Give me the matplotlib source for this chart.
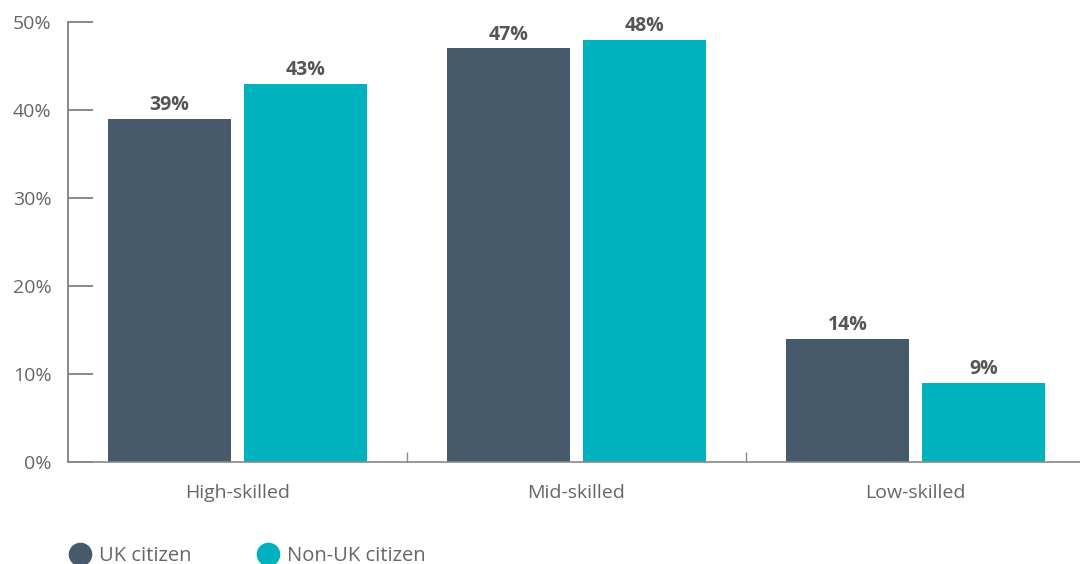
import matplotlib
matplotlib.use('Agg')

import numpy as np
import matplotlib.pyplot as plt
from matplotlib.lines import Line2D

categories = ['High-skilled', 'Mid-skilled', 'Low-skilled']
series_names = ['UK citizen', 'Non-UK citizen']
uk_values = [39, 47, 14]
non_uk_values = [43, 48, 9]
y_ticks = [0, 10, 20, 30, 40, 50]

colors = ['#475a6b', '#00b2bd']

plt.rcParams['font.family'] = ['Open Sans', 'DejaVu Sans']

fig = plt.figure( figsize=( 10.8, 5.64 ), dpi=100 )
ax = fig.add_axes( [ 68 / 1080, 1 - 462 / 564, 1 - 68 / 1080, 440 / 564 ] )

x = np.arange( len( categories ) )
width = 0.363
offset = 0.2

for vals, sign, col in zip( [ uk_values, non_uk_values ], [ -1, 1 ], colors ):
	bars = ax.bar( x + sign * offset, vals, width, color=col, zorder=2 )
	for b, v in zip( bars, vals ):
		ax.annotate( '{}%'.format( v ), ( b.get_x( ) + b.get_width( ) / 2, v ),
			xytext=( 0, 2.5 ), textcoords='offset points', ha='center', va='bottom',
			fontsize=14, fontweight='bold', color='#555555' )

ax.set_xlim( -0.5, 2.485 )
ax.set_ylim( 0, 50 )

ax.set_yticks( y_ticks )
ax.set_yticklabels( [ '{}%'.format( t ) for t in y_ticks ] )
ax.tick_params( axis='y', direction='in', length=18, width=1.2, color='#777777',
	labelsize=14, labelcolor='#666666', pad=12 )

ax.set_xticks( x )
ax.set_xticklabels( categories )
ax.set_xticks( [ 0.5, 1.5 ], minor=True )
ax.tick_params( axis='x', which='major', length=0, labelsize=14, labelcolor='#666666', pad=16 )
ax.tick_params( axis='x', which='minor', direction='in', length=7, width=1, color='#888888' )

for s in [ 'top', 'right' ]:
	ax.spines[ s ].set_visible( False )
ax.spines[ 'left' ].set_color( '#777777' )
ax.spines[ 'left' ].set_linewidth( 1.2 )
ax.spines[ 'bottom' ].set_color( '#888888' )
ax.spines[ 'bottom' ].set_linewidth( 1.2 )

handles = [ Line2D( [ 0 ], [ 0 ], marker='o', linestyle='', markersize=16, color=c ) for c in colors ]
fig.legend( handles, series_names, loc='center left', bbox_to_anchor=( 0.046, 0.014 ),
	ncol=2, frameon=False, fontsize=14.5, labelcolor='#666666', handletextpad=0.35,
	columnspacing=3.2, handlelength=1.2 )

fig.savefig( 'out.png', dpi=100 )
